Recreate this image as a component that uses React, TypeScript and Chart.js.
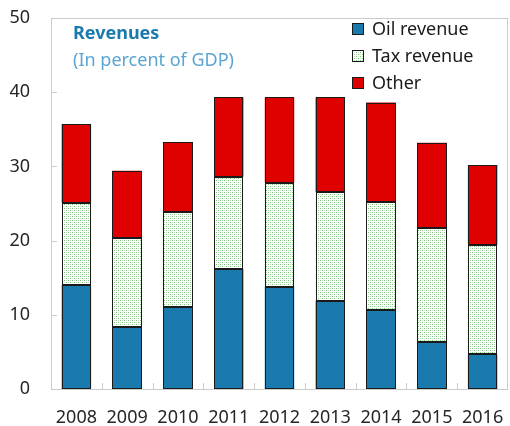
import React, { useEffect, useRef } from "react";
import { Chart, registerables } from "chart.js";

Chart.register(...registerables);

const years = ["2008", "2009", "2010", "2011", "2012", "2013", "2014", "2015", "2016"];
const oilRevenue = [14.0, 8.3, 11.1, 16.2, 13.8, 11.9, 10.7, 6.3, 4.7];
const taxRevenue = [11.1, 12.1, 12.7, 12.4, 14.0, 14.6, 14.5, 15.4, 14.7];
const otherRevenue = [10.6, 9.0, 9.5, 10.7, 11.5, 12.8, 13.4, 11.5, 10.8];
const seriesLabels = ["Oil revenue", "Tax revenue", "Other"];
const yMin = 0;
const yMax = 50;
const yStep = 10;
const titleText = "Revenues";
const subtitleText = "(In percent of GDP)";

const OIL = "#1b7aad";
const RED = "#df0000";
const EDGE = "#1a1a1a";
const FRAME = "#cccccc";
const FONT = "'Noto Sans', 'Open Sans', sans-serif";

export default function App() {
  const ref = useRef<HTMLCanvasElement | null>(null);

  useEffect(() => {
    const canvas = ref.current;
    if (!canvas) return;
    const ctx = canvas.getContext("2d")!;

    const pc = document.createElement("canvas");
    pc.width = 4;
    pc.height = 4;
    const pg = pc.getContext("2d")!;
    pg.fillStyle = "#ffffff";
    pg.fillRect(0, 0, 4, 4);
    pg.fillStyle = "#7cc47c";
    pg.fillRect(0, 0, 1, 1);
    pg.fillRect(2, 2, 1, 1);
    pg.fillStyle = "#c4e4c4";
    pg.fillRect(2, 0, 1, 1);
    pg.fillRect(0, 2, 1, 1);
    const taxPattern = ctx.createPattern(pc, "repeat") as CanvasPattern;

    const fills = [OIL, taxPattern, RED];

    const decor = {
      id: "decor",
      beforeDatasetsDraw(chart: any) {
        const { ctx: c, chartArea: a } = chart;
        c.save();
        c.strokeStyle = FRAME;
        c.lineWidth = 1;
        c.strokeRect(Math.round(a.left) + 0.5, Math.round(a.top) + 0.5, Math.round(a.right - a.left) - 1, Math.round(a.bottom - a.top));
        const n = years.length;
        const w = (a.right - a.left) / n;
        c.beginPath();
        for (let i = 1; i < n; i++) {
          const x = Math.round(a.left + i * w) + 0.5;
          c.moveTo(x, a.bottom);
          c.lineTo(x, a.bottom - 6);
        }
        const ys = chart.scales.y;
        for (let v = yMin + yStep; v < yMax; v += yStep) {
          const y = Math.round(ys.getPixelForValue(v)) + 0.5;
          c.moveTo(a.left, y);
          c.lineTo(a.left + 6, y);
        }
        c.stroke();
        c.restore();
      },
      afterDatasetsDraw(chart: any) {
        const c = chart.ctx;
        c.save();
        c.strokeStyle = EDGE;
        c.lineWidth = 1;
        chart.data.datasets.forEach((_: any, di: number) => {
          const meta = chart.getDatasetMeta(di);
          meta.data.forEach((el: any) => {
            const l = Math.round(el.x - el.width / 2) + 0.5;
            const r = Math.round(el.x + el.width / 2) - 0.5;
            const t = Math.round(Math.min(el.y, el.base)) + 0.5;
            const b = Math.round(Math.max(el.y, el.base)) - 0.5;
            c.strokeRect(l, t, r - l, b - t);
          });
        });
        c.restore();
      },
      afterDraw(chart: any) {
        const c = chart.ctx;
        c.save();
        c.textBaseline = "middle";
        c.textAlign = "left";
        c.font = `bold 18px ${FONT}`;
        c.fillStyle = OIL;
        c.fillText(titleText, 73, 34);
        c.font = `18px ${FONT}`;
        c.fillStyle = "#5aa5d2";
        c.fillText(subtitleText, 73, 61);

        const rows = [29, 56, 83];
        seriesLabels.forEach((lab, i) => {
          const y = rows[i];
          c.fillStyle = fills[i];
          c.fillRect(352, y - 6, 12, 12);
          c.strokeStyle = EDGE;
          c.lineWidth = 1;
          c.strokeRect(352.5, y - 5.5, 11, 11);
          c.fillStyle = "#1a1a1a";
          c.font = `18px ${FONT}`;
          c.fillText(lab, 372, y + 1);
        });
        c.restore();
      },
    };

    const mk = (label: string, data: number[], bg: any) => ({
      label,
      data,
      backgroundColor: bg,
      borderWidth: 0,
      inflateAmount: 0,
      barPercentage: 0.58,
      categoryPercentage: 1,
    });

    const chart = new Chart(ctx, {
      type: "bar",
      data: {
        labels: years,
        datasets: [
          mk(seriesLabels[0], oilRevenue, OIL),
          mk(seriesLabels[1], taxRevenue, taxPattern),
          mk(seriesLabels[2], otherRevenue, RED),
        ],
      },
      options: {
        animation: false,
        responsive: true,
        maintainAspectRatio: false,
        layout: { padding: { top: 18, right: 2, left: 0, bottom: 0 } },
        plugins: {
          legend: { display: false },
          tooltip: { enabled: false },
          title: { display: false },
        },
        scales: {
          x: {
            stacked: true,
            grid: { display: false, drawTicks: false },
            border: { display: false },
            ticks: {
              color: "#262626",
              font: { family: FONT, size: 18 },
              padding: 18,
              maxRotation: 0,
              autoSkip: false,
            },
            afterFit: (s: any) => {
              s.height = 37;
              s.paddingLeft = 0;
              s.paddingRight = 0;
            },
          },
          y: {
            stacked: true,
            min: yMin,
            max: yMax,
            grid: { display: false, drawTicks: false },
            border: { display: false },
            ticks: {
              stepSize: yStep,
              color: "#262626",
              font: { family: FONT, size: 18 },
              padding: 21,
            },
            afterFit: (s: any) => {
              s.width = 51;
              s.paddingTop = 0;
              s.paddingBottom = 0;
            },
          },
        },
      },
      plugins: [decor],
    });

    return () => chart.destroy();
  }, []);

  return (
    <div style={{ position: "absolute", left: 0, top: 0, width: 510, height: 426, background: "#fff" }}>
      <canvas ref={ref} />
    </div>
  );
}
